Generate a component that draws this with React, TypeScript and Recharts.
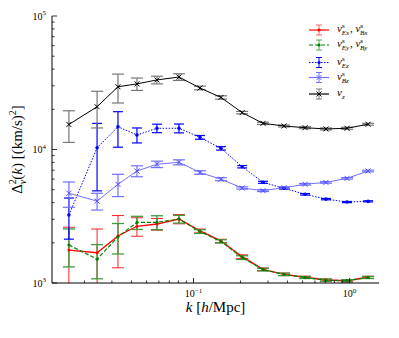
import React from 'react';
import { ComposedChart, Line, XAxis, YAxis, ErrorBar, Legend } from 'recharts';

// ---- data ----
const kValues = [0.0159, 0.0241, 0.0328, 0.0434, 0.0583, 0.0807, 0.110, 0.150, 0.205, 0.279, 0.380, 0.519, 0.706, 0.964, 1.315];

const redValues = [1766, 1686, 2250, 2660, 2766, 3015, 2455, 2066, 1575, 1267, 1162, 1104, 1053, 1040, 1104];
const redErrors = [850, 850, 950, 420, 280, 240, 80, 60, 50, 30, 25, 20, 20, 20, 20];

const greenValues = [1930, 1507, 2220, 2840, 2850, 3010, 2430, 2050, 1550, 1260, 1160, 1100, 1050, 1040, 1100];
const greenErrors = [610, 432, 570, 320, 340, 200, 80, 60, 50, 30, 25, 20, 20, 20, 20];

const eZValues = [3230, 10300, 14800, 12850, 14420, 14420, 12330, 10200, 7430, 5680, 5120, 4620, 4250, 4040, 4090];
const eZErrors = [1100, 5400, 4400, 1650, 1050, 1100, 400, 300, 150, 100, 70, 60, 50, 40, 40];

const bZValues = [4700, 4110, 5480, 6900, 7750, 8020, 6730, 5990, 5150, 4920, 5170, 5490, 5670, 6080, 6900];
const bZErrors = [1010, 590, 1040, 650, 430, 350, 200, 150, 100, 80, 80, 80, 80, 80, 100];

const vzValues = [15400, 20900, 29500, 31000, 33200, 34900, 28900, 24550, 18900, 15700, 15000, 14560, 14250, 14420, 15460];
const vzErrors = [4100, 6400, 7200, 3300, 2200, 2000, 900, 700, 400, 300, 250, 250, 250, 250, 250];

const yTicks = [1000, 2000, 3000, 4000, 5000, 6000, 7000, 8000, 9000, 10000, 20000, 30000, 40000, 50000, 60000, 70000, 80000, 90000, 100000];
const xTicks = [0.02, 0.03, 0.04, 0.05, 0.06, 0.07, 0.08, 0.09, 0.1, 0.2, 0.3, 0.4, 0.5, 0.6, 0.7, 0.8, 0.9, 1];
const xDomain = [0.01239, 1.545];
const yDomain = [1000, 100000];

const legendLabels = [
  { key: 'red', color: '#ff0000', errColor: '#ff6060', dash: undefined, marker: 'dot', parts: [['s', 'Ex'], ['s', 'Bx']] },
  { key: 'green', color: '#008000', errColor: '#50a850', dash: '4 2', marker: 'dot', parts: [['s', 'Ey'], ['s', 'By']] },
  { key: 'ez', color: '#0000ff', errColor: '#0000ff', dash: '1.5 1.5', marker: 'dot', parts: [['s', 'Ez']] },
  { key: 'bz', color: '#7070ff', errColor: '#7070ff', dash: undefined, marker: 'x', parts: [['s', 'Bz']] },
  { key: 'vz', color: '#000000', errColor: '#777777', dash: undefined, marker: 'x', parts: [['', 'z']] },
];

const data = kValues.map((k, i) => ({
  k,
  red: redValues[i], redErr: redErrors[i],
  green: greenValues[i], greenErr: greenErrors[i],
  ez: eZValues[i], ezErr: eZErrors[i],
  bz: bZValues[i], bzErr: bZErrors[i],
  vz: vzValues[i], vzErr: vzErrors[i],
}));

const FONT = "'Liberation Serif', 'DejaVu Serif', serif";

const isMajor = (v: number) => Math.abs(Math.log10(v) - Math.round(Math.log10(v))) < 1e-6;

function makeTick(side: 'left' | 'right' | 'top' | 'bottom', showLabels: boolean) {
  return (props: any) => {
    const { x, y, payload } = props;
    const v = payload.value;
    const major = isMajor(v);
    const len = major ? 5 : 2.5;
    let line;
    if (side === 'left') line = <line x1={x} x2={x + len} y1={y} y2={y} stroke="#000" strokeWidth={0.8} />;
    else if (side === 'right') line = <line x1={x} x2={x - len} y1={y} y2={y} stroke="#000" strokeWidth={0.8} />;
    else if (side === 'top') line = <line x1={x} x2={x} y1={y} y2={y + len} stroke="#000" strokeWidth={0.8} />;
    else line = <line x1={x} x2={x} y1={y} y2={y - len} stroke="#000" strokeWidth={0.8} />;
    let label = null;
    if (showLabels && major) {
      const exp = Math.round(Math.log10(v));
      const expStr = exp < 0 ? '\u2212' + Math.abs(exp) : String(exp);
      if (side === 'left') {
        label = (
          <text x={x - 6} y={y + 3.5} textAnchor="end" fontFamily={FONT} fontSize={10} fill="#000">
            10<tspan fontSize={7} dy={-4.5}>{expStr}</tspan>
          </text>
        );
      } else if (side === 'bottom') {
        label = (
          <text x={x} y={y + 14} textAnchor="middle" fontFamily={FONT} fontSize={10} fill="#000">
            10<tspan fontSize={7} dy={-4.5}>{expStr}</tspan>
          </text>
        );
      }
    }
    return (
      <g>
        {line}
        {label}
      </g>
    );
  };
}

const dotMarker = (color: string, r: number) => (props: any) => {
  const { cx, cy, key } = props;
  if (cx == null || cy == null) return <g key={key} />;
  return <circle key={key} cx={cx} cy={cy} r={r} fill={color} stroke="none" />;
};

const xMarker = (color: string, s: number) => (props: any) => {
  const { cx, cy, key } = props;
  if (cx == null || cy == null) return <g key={key} />;
  return (
    <g key={key}>
      <line x1={cx - s} y1={cy - s} x2={cx + s} y2={cy + s} stroke={color} strokeWidth={1} />
      <line x1={cx - s} y1={cy + s} x2={cx + s} y2={cy - s} stroke={color} strokeWidth={1} />
    </g>
  );
};

const XLabel = (props: any) => {
  const vb = props.viewBox || {};
  const cx = vb.x + vb.width / 2;
  return (
    <text x={cx} y={vb.y + 29} textAnchor="middle" fontFamily={FONT} fontSize={15} fill="#000">
      <tspan fontStyle="italic">k</tspan>
      <tspan> [</tspan>
      <tspan fontStyle="italic">h</tspan>
      <tspan>/Mpc]</tspan>
    </text>
  );
};

const YLabel = (props: any) => {
  const vb = props.viewBox || {};
  const cy = vb.y + vb.height / 2;
  const bx = 14;
  return (
    <text
      x={bx}
      y={cy}
      transform={`rotate(-90 ${bx} ${cy})`}
      textAnchor="middle"
      fontFamily={FONT}
      fontSize={15}
      fill="#000"
    >
      <tspan>{'\u0394'}</tspan>
      <tspan fontSize={10} dy={-6}>2</tspan>
      <tspan fontSize={10} fontStyle="italic" dx={-5} dy={10}>v</tspan>
      <tspan dy={-4}>(</tspan>
      <tspan fontStyle="italic">k</tspan>
      <tspan>) [(km/s)</tspan>
      <tspan fontSize={10} dy={-6}>2</tspan>
      <tspan dy={6}>]</tspan>
    </text>
  );
};

const LegendBox = () => {
  const rowYs = [8, 23, 40.5, 55.5, 72];
  return (
    <svg width={95} height={85} style={{ display: 'block' }}>
      {legendLabels.map((e, i) => {
        const y = rowYs[i];
        const mx = 15;
        return (
          <g key={e.key}>
            <line x1={5} x2={25} y1={y} y2={y} stroke={e.color} strokeWidth={1.2} strokeDasharray={e.dash} />
            <line x1={mx} x2={mx} y1={y - 5} y2={y + 5} stroke={e.errColor} strokeWidth={1} />
            <line x1={mx - 3} x2={mx + 3} y1={y - 5} y2={y - 5} stroke={e.errColor} strokeWidth={1} />
            <line x1={mx - 3} x2={mx + 3} y1={y + 5} y2={y + 5} stroke={e.errColor} strokeWidth={1} />
            {e.marker === 'dot' ? (
              <circle cx={mx} cy={y} r={1.6} fill={e.color} />
            ) : (
              <g>
                <line x1={mx - 2.5} y1={y - 2.5} x2={mx + 2.5} y2={y + 2.5} stroke={e.color} strokeWidth={1} />
                <line x1={mx - 2.5} y1={y + 2.5} x2={mx + 2.5} y2={y - 2.5} stroke={e.color} strokeWidth={1} />
              </g>
            )}
            <text x={33} y={y + 2} fontFamily={FONT} fontSize={11} fill="#000">
              {e.parts.map((p, j) => (
                <React.Fragment key={j}>
                  {j > 0 ? <tspan dy={0}>, </tspan> : null}
                  <tspan fontStyle="italic" dy={0}>v</tspan>
                  {p[0] ? <tspan fontSize={7} dy={-4}>{p[0]}</tspan> : null}
                  <tspan fontSize={7} fontStyle="italic" dx={p[0] ? -3 : 0} dy={p[0] ? 7 : 3}>{p[1]}</tspan>
                  <tspan fontSize={11} dy={-3}>{'\u200a'}</tspan>
                </React.Fragment>
              ))}
            </text>
          </g>
        );
      })}
    </svg>
  );
};

export default function App() {
  return (
    <ComposedChart
      width={391}
      height={330}
      data={data}
      margin={{ top: 8, right: 20, bottom: 25, left: 8 }}
      style={{ background: '#fff' }}
    >
      <XAxis
        xAxisId="b"
        dataKey="k"
        type="number"
        scale="log"
        domain={xDomain}
        allowDataOverflow
        ticks={xTicks}
        interval={0}
        height={30}
        tickSize={0}
        tickMargin={0}
        tickLine={false}
        axisLine={{ stroke: '#000', strokeWidth: 1 }}
        tick={makeTick('bottom', true)}
        label={<XLabel />}
      />
      <XAxis
        xAxisId="t"
        orientation="top"
        dataKey="k"
        type="number"
        scale="log"
        domain={xDomain}
        allowDataOverflow
        ticks={xTicks}
        interval={0}
        height={0}
        tickSize={0}
        tickMargin={0}
        tickLine={false}
        axisLine={{ stroke: '#000', strokeWidth: 1 }}
        tick={makeTick('top', false)}
      />
      <YAxis
        yAxisId="l"
        type="number"
        scale="log"
        domain={yDomain}
        allowDataOverflow
        ticks={yTicks}
        interval={0}
        width={36}
        tickSize={0}
        tickMargin={0}
        tickLine={false}
        axisLine={{ stroke: '#000', strokeWidth: 1 }}
        tick={makeTick('left', true)}
        label={<YLabel />}
      />
      <YAxis
        yAxisId="r"
        orientation="right"
        type="number"
        scale="log"
        domain={yDomain}
        allowDataOverflow
        ticks={yTicks}
        interval={0}
        width={0}
        tickSize={0}
        tickMargin={0}
        tickLine={false}
        axisLine={{ stroke: '#000', strokeWidth: 1 }}
        tick={makeTick('right', false)}
      />
      <Legend
        layout="horizontal"
        verticalAlign="middle"
        align="center"
        content={<LegendBox />}
        wrapperStyle={{ position: 'absolute', left: 296, top: 14, width: 95, height: 85 }}
      />
      <Line id="redLine" xAxisId="b" yAxisId="l" dataKey="red" stroke="#ff0000" strokeWidth={1.3} dot={dotMarker('#ff0000', 1.5)} activeDot={false} isAnimationActive={false}>
        <ErrorBar dataKey="redErr" direction="y" width={6} stroke="#ff2020" strokeWidth={1} clipPath="url(#clipPath-redLine)" isAnimationActive={false} />
      </Line>
      <Line id="greenLine" xAxisId="b" yAxisId="l" dataKey="green" stroke="#008000" strokeWidth={1.2} strokeDasharray="4 2" dot={dotMarker('#008000', 1.5)} activeDot={false} isAnimationActive={false}>
        <ErrorBar dataKey="greenErr" direction="y" width={6} stroke="#3c9c3c" strokeWidth={1.3} clipPath="url(#clipPath-greenLine)" isAnimationActive={false} />
      </Line>
      <Line id="ezLine" xAxisId="b" yAxisId="l" dataKey="ez" stroke="#0000ff" strokeWidth={1} strokeDasharray="1.5 1.5" dot={dotMarker('#0000ff', 1.8)} activeDot={false} isAnimationActive={false}>
        <ErrorBar dataKey="ezErr" direction="y" width={5} stroke="#0000ff" strokeWidth={1.2} isAnimationActive={false} />
      </Line>
      <Line id="bzLine" xAxisId="b" yAxisId="l" dataKey="bz" stroke="#7070ff" strokeWidth={1} dot={xMarker('#5050ff', 2.5)} activeDot={false} isAnimationActive={false}>
        <ErrorBar dataKey="bzErr" direction="y" width={6} stroke="#7070ff" strokeWidth={1.2} isAnimationActive={false} />
      </Line>
      <Line id="vzLine" xAxisId="b" yAxisId="l" dataKey="vz" stroke="#000000" strokeWidth={1} dot={xMarker('#000000', 2.5)} activeDot={false} isAnimationActive={false}>
        <ErrorBar dataKey="vzErr" direction="y" width={6} stroke="#777777" strokeWidth={1.2} isAnimationActive={false} />
      </Line>
    </ComposedChart>
  );
}
